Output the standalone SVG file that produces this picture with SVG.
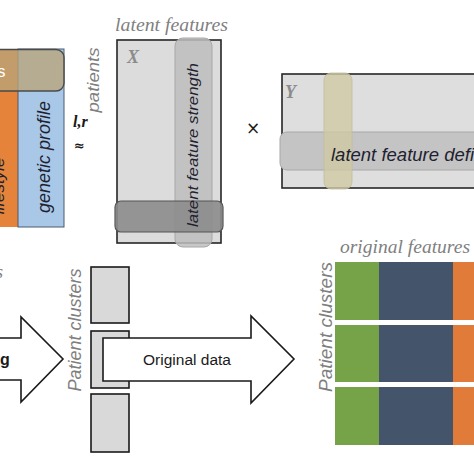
<svg xmlns="http://www.w3.org/2000/svg" width="474" height="474" viewBox="0 0 474 474">
<style>
.gray{fill:#7f7f7f;font-family:"Liberation Sans",Arial,sans-serif;font-style:italic}
.serif{fill:#7f7f7f;font-family:"Liberation Serif","Times New Roman",serif;font-style:italic}
.dark{fill:#1e2230;font-family:"Liberation Sans",Arial,sans-serif;font-style:italic}
.lbl{fill:#1a1a1a;font-family:"Liberation Sans",Arial,sans-serif}
.box{stroke:#262626;stroke-width:1.6}
.arrow{fill:#ffffff;stroke:#1a1a1a;stroke-width:1.6;stroke-linejoin:miter}
.clu{fill:#d9d9d9;stroke:#1a1a1a;stroke-width:1.6}
.mat{font-family:"Liberation Serif","Times New Roman",serif;font-style:italic;font-weight:bold;fill:#8c8c8c}
</style>
<rect width="474" height="474" fill="#ffffff"/>

<g id="data-matrix">
  <rect x="0" y="49" width="18" height="178" fill="#e5833a"/>
  <rect x="18" y="49" width="46" height="178" fill="#a9c8e8" stroke="#4a5a70" stroke-width="1"/>
  <rect x="-12" y="49.5" width="76" height="41.5" rx="8" fill="#b8a47a" fill-opacity="0.78" stroke="#4a4a4a" stroke-width="1.4"/>
  <text x="-3" y="77" font-size="17" fill="#ffffff" font-family="Liberation Sans,Arial,sans-serif">s</text>
  <text class="dark" font-size="17" transform="translate(4,186) rotate(-90)" text-anchor="middle">lifestyle</text>
  <text class="dark" font-size="18" transform="translate(50,157) rotate(-90)" text-anchor="middle">genetic profile</text>
</g>

<g id="approx">
  <text x="73" y="127" font-size="16" font-weight="bold" font-style="italic" font-family="Liberation Serif,Times New Roman,serif" fill="#1a1a1a">l,r</text>
  <text x="74" y="150" font-size="13" font-weight="bold" font-family="DejaVu Sans,sans-serif" fill="#1a1a1a">≈</text>
  <text class="gray" font-size="17" transform="translate(99,80) rotate(-90)" text-anchor="middle" textLength="65" lengthAdjust="spacingAndGlyphs">patients</text>
</g>

<g id="matrix-X">
  <text class="serif" x="115" y="31" font-size="19" textLength="113" lengthAdjust="spacingAndGlyphs">latent features</text>
  <rect class="box" x="117" y="40" width="104" height="203" fill="#dcdcdc"/>
  <text class="mat" x="127" y="63" font-size="18">X</text>
  <rect x="175" y="38" width="37" height="209" rx="8" fill="#bdbdbd" fill-opacity="0.85" stroke="#a8a8a8" stroke-width="1"/>
  <rect x="115" y="201" width="108" height="31" rx="6" fill="#8c8c8c" fill-opacity="0.9" stroke="#555555" stroke-width="1.2"/>
  <text class="dark" font-size="15" transform="translate(198,145) rotate(-90)" text-anchor="middle" textLength="164" lengthAdjust="spacingAndGlyphs">latent feature strength</text>
</g>

<g id="times">
  <text x="253" y="134" font-size="17" text-anchor="middle" font-family="DejaVu Sans,sans-serif" fill="#1a1a1a">×</text>
</g>

<g id="matrix-Y">
  <rect class="box" x="282" y="74" width="220" height="114" fill="#dedede"/>
  <text class="mat" x="285" y="98" font-size="18">Y</text>
  <rect x="280" y="132" width="230" height="38" rx="7" fill="#c4c4c4" stroke="#a8a8a8" stroke-width="1"/>
  <rect x="324" y="73" width="28" height="116" rx="7" fill="#cfc9a4" fill-opacity="0.8" stroke="#c2bd9c" stroke-width="0.8"/>
  <text class="dark" x="331" y="161" font-size="18" fill="#1a1a1a" textLength="143" lengthAdjust="spacingAndGlyphs">latent feature defi</text>
</g>

<g id="connectors">
  <polygon class="arrow" points="-5,338 21,338 21,317 63,359 21,402 21,380 -5,380"/>
</g>
<g id="label-left">
  <text x="-4" y="278" font-size="18" class="serif">s</text>
  <text x="0" y="365" font-size="16" font-weight="bold" class="lbl">g</text>
</g>

<g id="clusters">
  <text class="gray" font-size="18" transform="translate(81,330) rotate(-90)" text-anchor="middle" textLength="123" lengthAdjust="spacingAndGlyphs">Patient clusters</text>
  <rect class="clu" x="91" y="267" width="38" height="56"/>
  <rect class="clu" x="91" y="331" width="38" height="57"/>
  <rect class="clu" x="91" y="394" width="38" height="58"/>
</g>

<g id="arrow-original">
  <polygon class="arrow" points="103,338 251,338 251,316 294,359 251,403 251,381 103,381"/>
  <text class="lbl" x="187" y="365" font-size="15.5" text-anchor="middle">Original data</text>
</g>

<g id="original-features">
  <text class="serif" x="340" y="253" font-size="19" textLength="130" lengthAdjust="spacingAndGlyphs">original features</text>
  <text class="gray" font-size="19" transform="translate(332,327) rotate(-90)" text-anchor="middle" textLength="130" lengthAdjust="spacingAndGlyphs">Patient clusters</text>
  <g id="row1">
    <rect x="335" y="262" width="44" height="58" fill="#77a348"/>
    <rect x="379" y="262" width="74" height="58" fill="#44546a"/>
    <rect x="453" y="262" width="25" height="58" fill="#e07b39"/>
  </g>
  <g id="row2">
    <rect x="335" y="325" width="44" height="57" fill="#77a348"/>
    <rect x="379" y="325" width="74" height="57" fill="#44546a"/>
    <rect x="453" y="325" width="25" height="57" fill="#e07b39"/>
  </g>
  <g id="row3">
    <rect x="335" y="387" width="44" height="58" fill="#77a348"/>
    <rect x="379" y="387" width="74" height="58" fill="#44546a"/>
    <rect x="453" y="387" width="25" height="58" fill="#e07b39"/>
  </g>
</g>
</svg>
